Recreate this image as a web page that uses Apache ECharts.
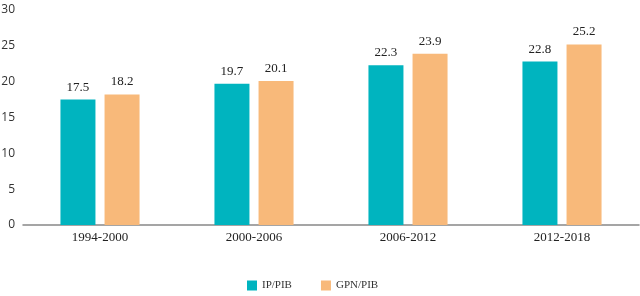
<!DOCTYPE html>
<html>
<head>
<meta charset="utf-8">
<script src="https://cdn.jsdelivr.net/npm/echarts@6/dist/echarts.min.js"></script>
<style>
  html, body { margin: 0; padding: 0; background: #fff; }
  #chart { width: 640px; height: 296px; }
</style>
</head>
<body>
<div id="chart"></div>
<script>
const periods = ['1994-2000', '2000-2006', '2006-2012', '2012-2018']
const ipPib = [17.5, 19.7, 22.3, 22.8]
const gpnPib = [18.2, 20.1, 23.9, 25.2]
const seriesNames = ['IP/PIB', 'GPN/PIB']

const chart = echarts.init(document.getElementById('chart'))

const labelStyle = {
  show: true,
  position: 'top',
  distance: 6,
  color: '#222',
  fontFamily: 'Liberation Serif',
  fontSize: 13
}

chart.setOption({
  backgroundColor: '#fff',
  animation: false,
  legend: {
    bottom: 0,
    left: 242,
    itemWidth: 10,
    itemHeight: 10,
    itemGap: 29,
    icon: 'rect',
    textStyle: {
      color: '#333',
      fontFamily: 'Liberation Serif',
      fontSize: 11
    },
    data: seriesNames
  },
  grid: {
    top: 10,
    left: 23,
    right: 1,
    bottom: 71,
    containLabel: false,
    outerBoundsMode: 'none'
  },
  xAxis: {
    type: 'category',
    data: periods,
    axisTick: { show: false },
    axisLine: {
      lineStyle: { color: '#888', width: 1.5 }
    },
    axisLabel: {
      color: '#222',
      fontFamily: 'Liberation Serif',
      fontSize: 13,
      margin: 6
    }
  },
  yAxis: {
    type: 'value',
    min: 0,
    max: 30,
    interval: 5,
    splitLine: { show: false },
    axisLine: { show: false },
    axisTick: { show: false },
    axisLabel: {
      color: '#333',
      fontFamily: 'Open Sans',
      fontSize: 12,
      margin: 8
    }
  },
  series: [{
    name: seriesNames[0],
    type: 'bar',
    barWidth: 35,
    barGap: '26%',
    itemStyle: { color: '#00B4BF' },
    label: labelStyle,
    data: ipPib
  }, {
    name: seriesNames[1],
    type: 'bar',
    barWidth: 35,
    barGap: '26%',
    itemStyle: { color: '#F8B97A' },
    label: labelStyle,
    data: gpnPib
  }]
})
</script>
</body>
</html>
